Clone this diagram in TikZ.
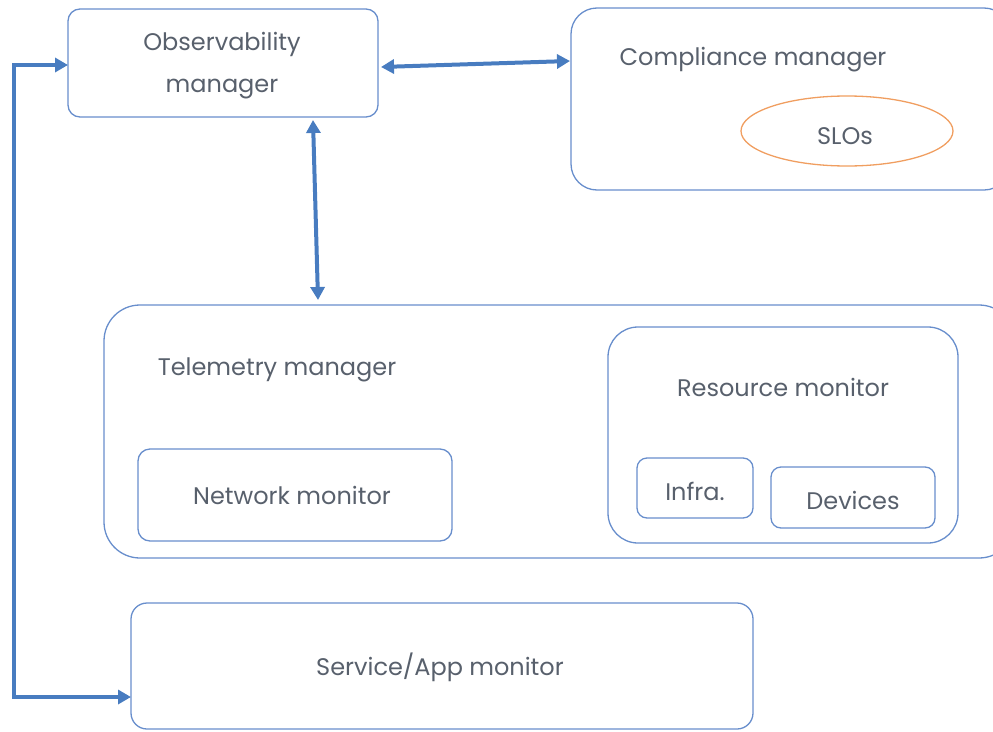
\documentclass[tikz,border=0pt]{standalone}
\usepackage{fontspec}
\setmainfont{Poppins}
\usetikzlibrary{arrows.meta,shapes.geometric}
\definecolor{boxblue}{RGB}{104,142,204}
\definecolor{arrowblue}{RGB}{72,124,192}
\definecolor{txtgray}{RGB}{88,96,108}
\definecolor{sloorange}{RGB}{240,158,96}
\tikzset{
  box/.style={draw=boxblue,line width=1.3pt,rounded corners=#1},
  box/.default=12pt,
  lbl/.style={text=txtgray,font=\fontsize{24}{42}\selectfont,align=center},
  link/.style={draw=arrowblue,line width=4pt,
    {Triangle[length=13pt,width=14pt]}-{Triangle[length=13pt,width=14pt]}}
}
\begin{document}
\begin{tikzpicture}[x=1pt,y=-1pt]
\useasboundingbox (0,0) rectangle (993,731);
\clip (0,0) rectangle (993,731);

% Observability manager
\draw[box=12pt] (68,9) rectangle (378,117);
\node[lbl] (obs) at (222,66) {Observability\\manager};
\coordinate (obsL) at (68,65);
\coordinate (obsR) at (381,67);
\coordinate (obsB) at (313,120);

% Compliance manager with SLOs
\draw[box=26pt] (571,8) rectangle (1010,190);
\node[lbl] (comp) at (753,60) {Compliance manager};
\coordinate (compL) at (570,61);
\draw[draw=sloorange,line width=1.3pt] (847,131) ellipse (106 and 35);
\node[lbl] (slo) at (845,136) {SLOs};

% Telemetry manager
\draw[box=36pt] (104,305) rectangle (1015,558);
\node[lbl] (tel) at (277,370) {Telemetry manager};
\coordinate (telT) at (318,300);

% Network monitor
\draw[box=12pt] (138,449) rectangle (452,541);
\node[lbl] (net) at (292,495) {Network monitor};

% Resource monitor
\draw[box=30pt] (608,327) rectangle (958,543);
\node[lbl] (res) at (783,387) {Resource monitor};
\draw[box=10pt] (637,458) rectangle (753,518);
\node[lbl] (infra) at (695,491) {Infra.};
\draw[box=10pt] (771,467) rectangle (935,528);
\node[lbl] (dev) at (853,500) {Devices};

% Service/App monitor
\draw[box=16pt] (131,603) rectangle (753,729);
\node[lbl] (svc) at (440,667) {Service/App monitor};
\coordinate (svcL) at (131,697);

% Connectors
\draw[link] (obsR) -- (compL);
\draw[link] (obsB) -- (telT);
\draw[link] (obsL) -- (14,65) -- (14,697) -- (svcL);
\end{tikzpicture}
\end{document}
